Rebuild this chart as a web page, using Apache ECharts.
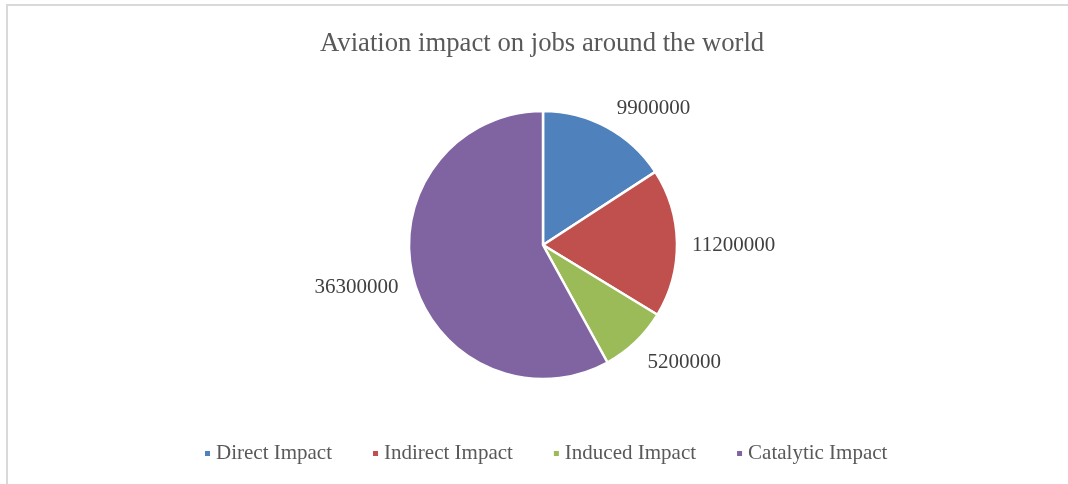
<!DOCTYPE html>
<html>
<head>
<meta charset="utf-8">
<script src="https://cdn.jsdelivr.net/npm/echarts@6/dist/echarts.min.js"></script>
<style>
  html, body { margin: 0; padding: 0; background: #fff; }
  #chart { width: 1068px; height: 484px; }
</style>
</head>
<body>
<div id="chart"></div>
<script>
var categories = ['Direct Impact', 'Indirect Impact', 'Induced Impact', 'Catalytic Impact'];
var jobs = [9900000, 11200000, 5200000, 36300000];
var colors = ['#4F81BD', '#C0504D', '#9BBB59', '#8064A2'];

var myChart = echarts.init(document.getElementById('chart'));
var pieData = [];
var total = 0;
for (var i = 0; i < categories.length; i++) {
  pieData.push({ name: categories[i], value: jobs[i] });
  total += jobs[i];
}
// vertical nudge of the labels, excel puts them a bit further out above/below
function labelShift(idx) {
  var before = 0;
  for (var k = 0; k < idx; k++) before += jobs[k];
  var mid = (before + jobs[idx] / 2) / total * Math.PI * 2;
  return -Math.cos(mid) * 15 + 3;
}
var option = {
  backgroundColor: '#fff',
  color: colors,
  title: {
    text: 'Aviation impact on jobs around the world',
    left: 315,
    top: 25,
    textStyle: {
      fontFamily: 'Liberation Serif',
      fontSize: 26.7,
      fontWeight: 'normal',
      color: '#595959'
    }
  },
  legend: {
    top: 438,
    left: 198,
    icon: 'rect',
    itemWidth: 7,
    itemHeight: 7,
    itemGap: 39,
    itemTextGap: 7,
    textStyle: {
      fontFamily: 'Liberation Serif',
      fontSize: 21,
      color: '#595959'
    },
    data: categories
  },
  graphic: [
    { type: 'line', shape: { x1: 7, y1: 5, x2: 1068, y2: 5 }, style: { stroke: '#d9d9d9', lineWidth: 2 } },
    { type: 'line', shape: { x1: 7, y1: 4, x2: 7, y2: 484 }, style: { stroke: '#d9d9d9', lineWidth: 2 } }
  ],
  series: [{
    type: 'pie',
    center: [543, 245],
    radius: 134,
    startAngle: 90,
    clockwise: true,
    avoidLabelOverlap: false,
    itemStyle: { borderColor: '#fff', borderWidth: 2.5 },
    label: {
      show: true,
      position: 'outside',
      formatter: '{c}',
      fontFamily: 'Liberation Serif',
      fontSize: 21,
      color: '#404040'
    },
    labelLine: { show: false, length: 10, length2: 0 },
    labelLayout: function (params) {
      return { dy: labelShift(params.dataIndex) };
    },
    emphasis: { scale: false },
    data: pieData
  }]
};
myChart.setOption(option);
</script>
</body>
</html>
